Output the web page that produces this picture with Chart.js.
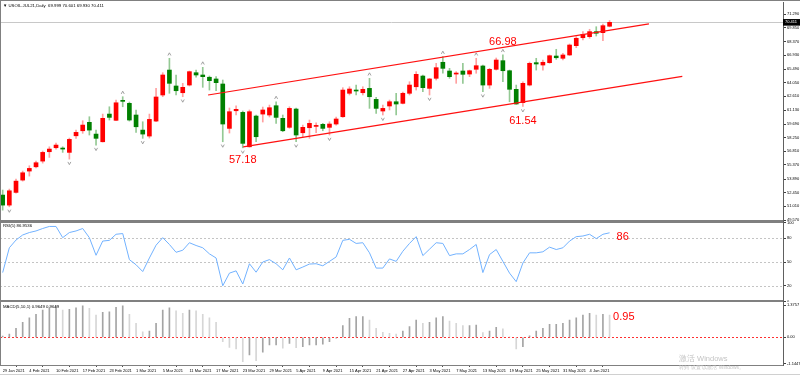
<!DOCTYPE html>
<html>
<head>
<meta charset="utf-8">
<script src="https://cdn.jsdelivr.net/npm/chart.js@4.4.1/dist/chart.umd.min.js"></script>
<style>
  html, body { margin: 0; padding: 0; background: #fff; }
  #wrap { position: relative; width: 800px; height: 375px; overflow: hidden; background: #fff; }
  canvas { position: absolute; left: 0; }
  .line { position: absolute; background: #808080; }
</style>
</head>
<body>
<div id="wrap">
  <canvas id="priceChart" width="800" height="222" style="top:0"></canvas>
  <canvas id="rsiChart" width="800" height="81" style="top:221px"></canvas>
  <canvas id="macdChart" width="800" height="73" style="top:302px"></canvas>
  <div class="line" style="left:0;top:0;width:800px;height:1px"></div>
  <div class="line" style="left:0;top:220px;width:783px;height:3px"></div>
  <div class="line" style="left:0;top:300px;width:783px;height:2px"></div>
  <div class="line" style="left:0;top:0;width:1px;height:366px"></div>
  <div class="line" style="left:0;top:374px;width:800px;height:1px;background:#d0d0d0"></div>
</div>
<script>
// date labels, one every 4 bars
const dateLabels = ['29 Jan 2021', '4 Feb 2021', '10 Feb 2021', '17 Feb 2021', '23 Feb 2021', '1 Mar 2021',
    '5 Mar 2021', '11 Mar 2021', '17 Mar 2021', '23 Mar 2021', '29 Mar 2021', '5 Apr 2021', '9 Apr 2021',
    '15 Apr 2021', '21 Apr 2021', '27 Apr 2021', '3 May 2021', '7 May 2021', '13 May 2021', '19 May 2021',
    '25 May 2021', '31 May 2021', '4 Jun 2021'];

const opens = [52.20, 51.14, 52.48, 53.78, 54.73, 55.18, 55.78, 56.77, 57.19, 57.12,
    56.70, 58.45, 58.98, 59.87, 58.63, 57.82, 60.74, 60.08, 62.15, 61.87,
    60.64, 59.05, 58.42, 60.00, 62.75, 65.38, 63.70, 62.99, 63.80, 65.10,
    64.86, 64.62, 64.44, 63.91, 59.23, 61.09, 60.92, 57.29, 60.53, 60.74,
    60.64, 61.62, 60.29, 59.34, 61.27, 58.77, 59.30, 59.44, 59.66, 59.34,
    59.69, 60.46, 62.93, 63.27, 62.99, 63.45, 62.29, 61.06, 61.59, 62.04,
    61.87, 62.93, 63.62, 64.75, 63.45, 64.51, 66.20, 65.28, 64.96, 65.28,
    64.96, 65.46, 65.81, 63.80, 65.46, 66.37, 65.31, 63.35, 61.94, 63.80,
    66.16, 65.91, 66.16, 66.86, 66.62, 66.97, 67.95, 68.79, 68.90, 69.43,
    69.32, 70.00];
const highs = [52.73, 52.83, 53.88, 54.73, 55.29, 55.78, 56.84, 57.29, 57.68, 57.29,
    58.21, 59.05, 60.04, 60.46, 59.05, 60.74, 61.51, 62.22, 62.57, 62.01,
    61.17, 59.93, 60.74, 63.45, 65.10, 66.62, 64.86, 63.98, 65.28, 65.38,
    65.67, 64.75, 64.68, 64.33, 61.38, 61.62, 61.06, 61.17, 60.64, 61.48,
    61.69, 62.04, 60.64, 61.51, 61.38, 59.58, 60.11, 59.82, 59.76, 59.93,
    60.43, 63.52, 63.62, 63.80, 63.62, 64.51, 62.50, 61.69, 62.22, 62.93,
    63.06, 64.15, 65.21, 64.86, 64.51, 66.09, 66.79, 65.56, 65.21, 66.09,
    65.38, 66.62, 65.91, 65.56, 66.65, 66.98, 65.38, 63.80, 64.15, 66.23,
    66.62, 66.44, 66.97, 67.57, 67.15, 68.13, 68.90, 69.43, 69.68, 69.95,
    70.24, 70.60];
const lows = [50.61, 50.96, 52.41, 53.67, 54.20, 55.05, 55.57, 56.17, 57.05, 56.70,
    55.99, 58.18, 58.71, 58.53, 57.47, 57.79, 60.11, 60.04, 61.51, 60.00,
    58.81, 58.18, 58.21, 59.95, 62.57, 62.93, 62.75, 62.57, 63.70, 64.62,
    63.56, 63.27, 63.20, 57.82, 58.74, 60.64, 57.18, 57.25, 57.82, 59.90,
    60.43, 59.76, 58.88, 59.23, 57.82, 58.35, 58.18, 58.77, 58.98, 58.53,
    59.58, 60.39, 62.75, 62.75, 62.75, 61.34, 60.82, 60.64, 61.17, 60.64,
    61.80, 62.75, 63.27, 63.10, 62.75, 64.33, 65.04, 64.51, 63.98, 63.98,
    64.68, 65.04, 63.10, 63.45, 65.38, 64.15, 62.04, 61.77, 61.54, 63.70,
    65.38, 65.38, 66.09, 66.51, 66.44, 66.91, 67.74, 68.55, 68.73, 68.97,
    68.48, 69.93];
const closes = [51.14, 52.65, 53.67, 54.55, 55.01, 55.61, 56.70, 57.05, 57.47, 57.05,
    58.07, 58.81, 59.58, 59.05, 58.18, 60.29, 60.39, 61.93, 62.08, 60.11,
    59.40, 58.63, 60.18, 62.54, 64.86, 63.98, 63.20, 63.56, 65.21, 64.86,
    64.68, 64.26, 64.05, 59.69, 60.99, 61.24, 57.65, 60.99, 58.35, 61.17,
    61.41, 60.39, 58.98, 61.34, 58.53, 59.34, 59.76, 59.51, 59.23, 59.69,
    60.22, 63.27, 63.38, 63.17, 63.35, 62.57, 61.34, 61.34, 62.04, 61.80,
    62.93, 63.80, 64.93, 63.52, 64.44, 65.63, 65.56, 64.68, 65.04, 64.93,
    65.31, 65.84, 63.80, 65.46, 66.44, 65.31, 63.35, 61.80, 63.98, 66.09,
    66.02, 66.20, 66.89, 66.68, 66.97, 68.02, 68.73, 69.15, 69.43, 69.26,
    70.06, 70.41];

const rsiValues = [36.6, 68.0, 77.8, 84.2, 87.3, 89.3, 92.4, 95.0, 95.0, 80.8,
    87.3, 89.3, 92.4, 80.8, 58.5, 76.5, 77.4, 85.1, 86.0, 53.0,
    46.5, 37.9, 55.1, 71.3, 80.8, 72.2, 62.3, 64.9, 74.4, 70.9,
    68.0, 60.3, 55.1, 19.9, 35.9, 38.8, 22.1, 47.8, 37.1, 50.0,
    53.0, 47.8, 40.1, 55.1, 40.1, 43.6, 47.4, 47.8, 45.2, 50.8,
    56.4, 77.4, 78.7, 73.5, 74.4, 61.6, 42.3, 42.3, 53.9, 50.8,
    63.6, 73.5, 82.1, 58.1, 66.2, 74.4, 73.5, 58.1, 60.3, 60.3,
    65.8, 72.2, 36.6, 59.4, 65.8, 50.8, 35.9, 25.1, 48.7, 61.6,
    61.6, 62.9, 68.8, 65.8, 68.0, 76.5, 82.1, 82.9, 85.1, 79.6,
    85.1, 86.95];

const macdValues = [0.05, 0.14, 0.39, 0.64, 0.84, 0.99, 1.17, 1.27, 1.35, 1.17,
    1.20, 1.27, 1.35, 1.25, 0.96, 1.07, 1.10, 1.29, 1.35, 0.99,
    0.60, 0.24, 0.27, 0.60, 1.17, 1.27, 1.14, 1.03, 1.17, 1.14,
    0.99, 0.84, 0.64, -0.19, -0.43, -0.50, -1.05, -0.76, -1.00, -0.64,
    -0.33, -0.33, -0.47, -0.26, -0.45, -0.40, -0.33, -0.33, -0.30, -0.19,
    -0.04, 0.50, 0.82, 0.89, 0.89, 0.74, 0.39, 0.21, 0.17, 0.14,
    0.27, 0.46, 0.74, 0.60, 0.64, 0.84, 0.89, 0.70, 0.60, 0.50,
    0.50, 0.53, 0.20, 0.27, 0.43, 0.36, 0.02, -0.50, -0.40, 0.06,
    0.27, 0.39, 0.56, 0.56, 0.60, 0.74, 0.84, 0.96, 1.03, 0.96,
    0.99, 0.96];

const priceTicks = [71.29, 69.85, 68.37, 66.93, 65.49, 64.05, 62.61, 61.13,
    59.69, 58.25, 56.81, 55.37, 53.89, 52.45, 51.01, 49.57];
const rsiTicks = [100, 80, 50, 20, 0];
const rsiLevels = [80, 50, 20];
const macdTicks = [1.3757, 0, -1.1447];

// fractal bars (marks above highs / below lows)
const upFractals = [18, 25, 30, 41, 55, 66, 71, 75];
const downFractals = [1, 10, 14, 21, 27, 33, 36, 44, 49, 57, 64, 72, 78];

// channel end points [bar, price]
const upperChannel = [[30.8, 62.75], [96.9, 70.24]];
const lowerChannel = [[36.07, 57.29], [101.9, 64.72]];

const X_MIN = -0.4, X_MAX = 117;
const FONT = 'Liberation Sans';
const RED = '#ff0000', GREEN = '#008000';

Chart.defaults.font.family = FONT;

function rightAxis(min, max, ticks, fmt) {
    return {
        position: 'right', min: min, max: max, bounds: 'data',
        afterBuildTicks: s => { s.ticks = ticks.map(v => ({value: v})); },
        afterFit: s => { s.width = 17; s.paddingTop = 0; s.paddingBottom = 0; },
        ticks: {autoSkip: false, padding: 1, color: '#000', font: {size: 4}, callback: fmt},
        grid: {drawOnChartArea: false, drawTicks: true, tickLength: 3, color: '#404040'},
        border: {display: true, color: '#606060'}
    };
}

function hiddenX() {
    return {type: 'linear', min: X_MIN, max: X_MAX, offset: false, bounds: 'data', display: false};
}

function baseOptions(padding) {
    return {
        responsive: false, animation: false, devicePixelRatio: 1,
        layout: {padding: padding},
        plugins: {legend: {display: false}, tooltip: {enabled: false}}
    };
}

function drawText(ctx, text, x, y, size, color, align) {
    ctx.save();
    ctx.font = size + 'px ' + FONT;
    ctx.fillStyle = color;
    ctx.textAlign = align || 'left';
    ctx.textBaseline = 'middle';
    ctx.fillText(text, x, y);
    ctx.restore();
}

// ---------- price panel ----------
const priceNotes = [
    {text: '66.98', bar: 75, value: highs[75], dy: -13},
    {text: '57.18', bar: 36, value: lows[36], dy: 12},
    {text: '61.54', bar: 78, value: lows[78], dy: 14.5}
];

const priceDecor = {
    id: 'priceDecor',
    beforeDatasetsDraw(chart) {
        const {ctx, chartArea, scales: {y}} = chart;
        const py = Math.round(y.getPixelForValue(closes[closes.length - 1])) + 0.5;
        ctx.save();
        ctx.strokeStyle = '#c8c8c8';
        ctx.lineWidth = 1;
        ctx.beginPath();
        ctx.moveTo(chartArea.left, py);
        ctx.lineTo(chartArea.right, py);
        ctx.stroke();
        ctx.restore();
    },
    afterDatasetsDraw(chart) {
        const {ctx, scales: {x, y}} = chart;
        ctx.save();
        ctx.strokeStyle = '#8c8c8c';
        ctx.lineWidth = 0.8;
        upFractals.forEach(i => {
            const px = x.getPixelForValue(i), py = y.getPixelForValue(highs[i]) - 4;
            ctx.beginPath();
            ctx.moveTo(px - 1.5, py + 1.2); ctx.lineTo(px, py - 1.5); ctx.lineTo(px + 1.5, py + 1.2);
            ctx.stroke();
        });
        downFractals.forEach(i => {
            const px = x.getPixelForValue(i), py = y.getPixelForValue(lows[i]) + 4;
            ctx.beginPath();
            ctx.moveTo(px - 1.5, py - 1.2); ctx.lineTo(px, py + 1.5); ctx.lineTo(px + 1.5, py - 1.2);
            ctx.stroke();
        });
        ctx.restore();
        priceNotes.forEach(n => {
            drawText(ctx, n.text, x.getPixelForValue(n.bar), y.getPixelForValue(n.value) + n.dy, 11, RED, 'center');
        });
    },
    afterDraw(chart) {
        const {ctx, chartArea, scales: {y}} = chart;
        const last = closes.length - 1;
        drawText(ctx, '\u25BC USOIL.JUL21,Daily  ' + opens[last].toFixed(3).replace('70.000', '69.999') + ' ' +
            highs[last].toFixed(3).replace('70.600', '70.601') + ' ' + lows[last].toFixed(3) + ' ' +
            '70.411', 3, 5.5, 4.3, '#000');
        const py = y.getPixelForValue(closes[last]);
        ctx.save();
        ctx.fillStyle = '#000';
        ctx.fillRect(chartArea.right, py - 3.3, 17, 6.6);
        ctx.restore();
        drawText(ctx, '70.411', chartArea.right + 2, py, 4, '#fff');
    }
};

const bodyData = opens.map((o, i) => ({x: i, y: [o, closes[i]]}));
const wickData = opens.map((o, i) => ({x: i, y: [lows[i], highs[i]]}));
const bodyColors = opens.map((o, i) => closes[i] >= o ? RED : GREEN);
const wickColors = opens.map((o, i) => closes[i] >= o ? '#ffa0a0' : '#94c994');

new Chart(document.getElementById('priceChart'), {
    type: 'bar',
    data: {
        datasets: [
            {type: 'line', data: upperChannel.map(p => ({x: p[0], y: p[1]})), borderColor: '#ff1010',
                borderWidth: 1.2, pointRadius: 0, order: 1},
            {type: 'line', data: lowerChannel.map(p => ({x: p[0], y: p[1]})), borderColor: '#ff1010',
                borderWidth: 1.2, pointRadius: 0, order: 1},
            {data: bodyData, backgroundColor: bodyColors, barThickness: 4, minBarLength: 1,
                grouped: false, order: 2},
            {data: wickData, backgroundColor: wickColors, barThickness: 1, grouped: false, order: 3}
        ]
    },
    options: Object.assign(baseOptions({top: 2, bottom: 1, left: 0, right: 0}), {
        scales: {
            x: hiddenX(),
            y: rightAxis(49.465, 72.556, priceTicks, v => v.toFixed(3))
        }
    }),
    plugins: [priceDecor]
});

// ---------- RSI panel ----------
const rsiDecor = {
    id: 'rsiDecor',
    beforeDatasetsDraw(chart) {
        const {ctx, chartArea, scales: {y}} = chart;
        ctx.save();
        ctx.strokeStyle = '#c4c4c4';
        ctx.lineWidth = 1;
        ctx.setLineDash([2, 2]);
        rsiLevels.forEach(v => {
            const py = Math.round(y.getPixelForValue(v)) + 0.5;
            ctx.beginPath();
            ctx.moveTo(chartArea.left, py);
            ctx.lineTo(chartArea.right, py);
            ctx.stroke();
        });
        ctx.restore();
    },
    afterDraw(chart) {
        const {ctx, scales: {x, y}} = chart;
        const last = rsiValues.length - 1;
        drawText(ctx, 'RSI(5) 86.9536', 3, 5, 4.3, '#000');
        drawText(ctx, '86', x.getPixelForValue(last) + 7, y.getPixelForValue(rsiValues[last]) + 4, 11, RED);
    }
};

new Chart(document.getElementById('rsiChart'), {
    type: 'line',
    data: {
        datasets: [{
            data: rsiValues.map((v, i) => ({x: i, y: v})),
            borderColor: '#72b2ff', borderWidth: 1, pointRadius: 0, tension: 0
        }]
    },
    options: Object.assign(baseOptions({top: 1.5, bottom: 0.5, left: 0, right: 0}), {
        scales: {
            x: hiddenX(),
            y: rightAxis(0, 100, rsiTicks, v => String(v))
        }
    }),
    plugins: [rsiDecor]
});

// ---------- MACD panel ----------
const macdDecor = {
    id: 'macdDecor',
    beforeDatasetsDraw(chart) {
        const {ctx, chartArea, scales: {y}} = chart;
        const py = Math.round(y.getPixelForValue(0)) + 0.5;
        ctx.save();
        ctx.strokeStyle = '#ff3030';
        ctx.lineWidth = 1;
        ctx.setLineDash([2, 2]);
        ctx.beginPath();
        ctx.moveTo(chartArea.left, py);
        ctx.lineTo(chartArea.right, py);
        ctx.stroke();
        ctx.restore();
    },
    afterDraw(chart) {
        const {ctx, scales: {x, y}} = chart;
        const last = macdValues.length - 1;
        drawText(ctx, 'MACD(5,10,1) 0.9649 0.9649', 3, 5, 4.3, '#000');
        drawText(ctx, '0.95', x.getPixelForValue(last) + 3.5, y.getPixelForValue(macdValues[last]) + 2.5, 11, RED);
        drawText(ctx, '激活 Windows', 679, 56.5, 7.5, '#c4c4c4');
        drawText(ctx, '转到“设置”以激活 Windows。', 679, 65.5, 5, '#c4c4c4');
    }
};

const macdColors = macdValues.map((v, i) => (i > 0 && v < macdValues[i - 1]) ? '#d6d6d6' : '#a4a4a4');

new Chart(document.getElementById('macdChart'), {
    type: 'bar',
    data: {
        datasets: [{
            data: macdValues.map((v, i) => ({x: i, y: v})),
            backgroundColor: macdColors, barThickness: 1, grouped: false
        }]
    },
    options: Object.assign(baseOptions({top: 0.5, bottom: 0, left: 0, right: 0}), {
        scales: {
            x: {
                type: 'linear', min: X_MIN, max: X_MAX, offset: false, bounds: 'data',
                afterBuildTicks: s => { s.ticks = dateLabels.map((d, k) => ({value: k * 4})); },
                afterFit: s => { s.height = 10; s.paddingLeft = 0; s.paddingRight = 0; },
                ticks: {autoSkip: false, maxRotation: 0, align: 'start', padding: 1, color: '#000',
                    font: {size: 4}, callback: v => dateLabels[Math.round(v / 4)]},
                grid: {drawOnChartArea: false, drawTicks: true, tickLength: 2, color: '#505050'},
                border: {display: true, color: '#808080'}
            },
            y: rightAxis(-1.191, 1.496, macdTicks, v => v === 0 ? '0.00' : String(v))
        }
    }),
    plugins: [macdDecor]
});
</script>
</body>
</html>
